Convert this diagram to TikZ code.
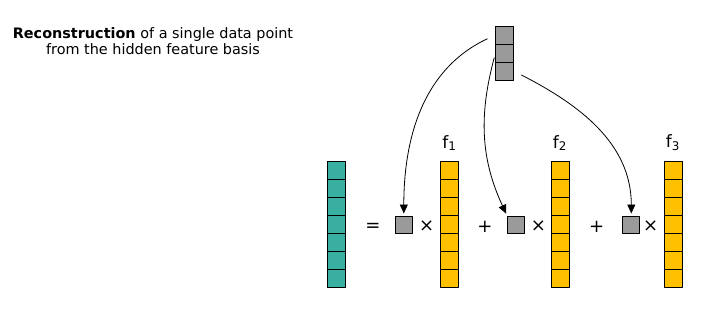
\documentclass[tikz,border=0pt]{standalone}
\usepackage{fontspec}
\setmainfont{DejaVu Sans}
\usetikzlibrary{arrows.meta}
\definecolor{cellteal}{HTML}{39AFA2}
\definecolor{cellgold}{HTML}{FFC000}
\definecolor{cellgray}{HTML}{9A9A9A}
\begin{document}
\begin{tikzpicture}[x=1pt,y=-1pt,line cap=round,line join=round,
  cell/.style={draw=black,line width=0.8pt,minimum size=18pt,inner sep=0pt,outer sep=0pt},
  op/.style={font=\fontsize{18}{18}\selectfont,inner sep=0pt},
  flabel/.style={font=\fontsize{17}{17}\selectfont,inner sep=0pt},
  curvearrow/.style={line width=0.8pt,-{Triangle[length=9pt,width=8pt]}}]
  \useasboundingbox (0,0) rectangle (708,332);
  \node[align=center,font=\fontsize{14.4}{15.5}\selectfont,inner sep=0pt] (title) at (153,41)
    {\textbf{Reconstruction} of a single data point\\from the hidden feature basis};
  \foreach \i in {1,2,3}
    \node[cell,fill=cellgray] (g\i) at (504.5,17+18*\i) {};
  \foreach \i in {1,...,7}
    \node[cell,fill=cellteal] (x\i) at (336,152.5+18*\i) {};
  \foreach \j/\cx in {1/449.3,2/560,3/673} {
    \foreach \i in {1,...,7}
      \node[cell,fill=cellgold] (f\j-\i) at (\cx,152.5+18*\i) {};
    \node[flabel] (lab\j) at (\cx,143) {f\textsubscript{\j}};
  }
  \node[cell,fill=cellgray,minimum size=17pt] (c1) at (403.8,225) {};
  \node[cell,fill=cellgray,minimum size=17pt] (c2) at (516,225) {};
  \node[cell,fill=cellgray,minimum size=17pt] (c3) at (631.3,225) {};
  \node[op] (eq) at (373,227) {=};
  \node[op] (t1) at (426.7,226) {×};
  \node[op] (p1) at (485,227) {+};
  \node[op] (t2) at (538.3,226) {×};
  \node[op] (p2) at (596.7,227) {+};
  \node[op] (t3) at (650.7,226) {×};
  \draw[curvearrow,shorten <=9pt,shorten >=3pt] (g1.west) to[out=205,in=90] (c1.north);
  \draw[curvearrow,shorten <=5pt,shorten >=3pt] (g2.west) to[out=255,in=115] (c2.north west);
  \draw[curvearrow,shorten <=9pt,shorten >=3pt] (g3.east) to[out=-27,in=90] (c3.north);
\end{tikzpicture}
\end{document}
